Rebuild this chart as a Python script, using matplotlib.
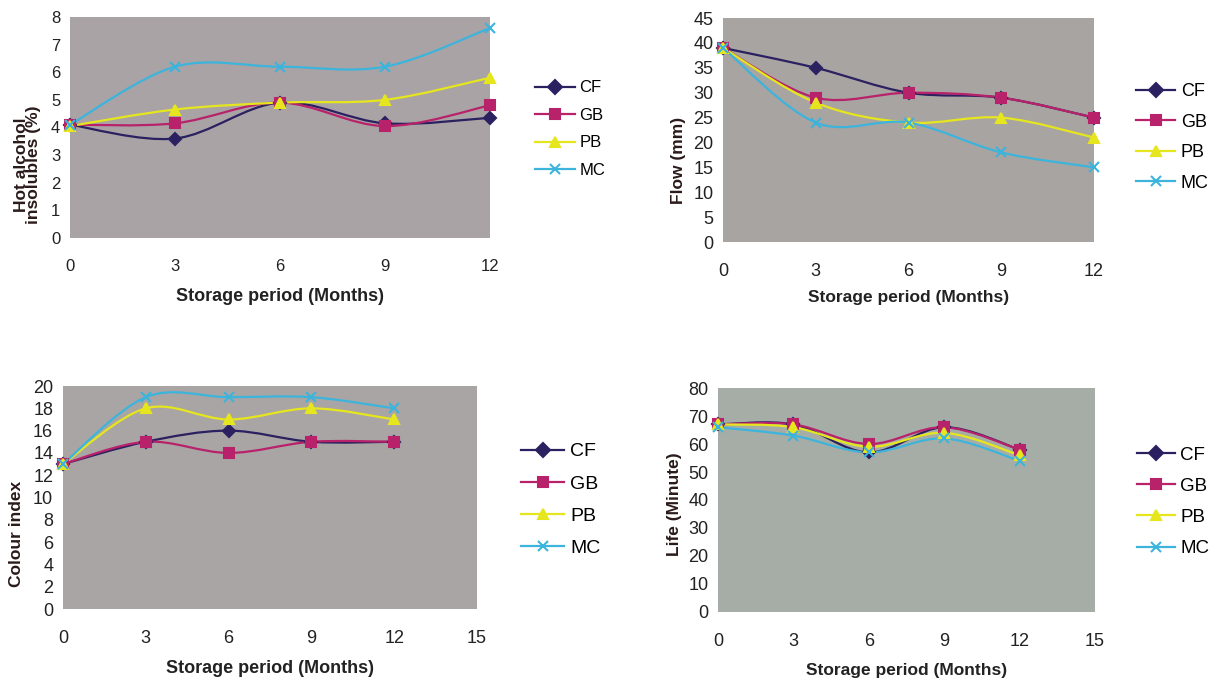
import numpy as np
import matplotlib
matplotlib.use("Agg")
import matplotlib.pyplot as plt
from matplotlib.path import Path
from matplotlib.patches import PathPatch
from matplotlib.lines import Line2D

plt.rcParams['font.family'] = ['Liberation Sans', 'DejaVu Sans']

# data
months = [0, 3, 6, 9, 12]
names = ['CF', 'GB', 'PB', 'MC']

hai_cf = [4.1, 3.6, 4.9, 4.15, 4.35]
hai_gb = [4.1, 4.15, 4.9, 4.05, 4.8]
hai_pb = [4.05, 4.65, 4.9, 5.0, 5.8]
hai_mc = [4.1, 6.2, 6.2, 6.2, 7.6]

flow_cf = [39, 35, 30, 29, 25]
flow_gb = [39, 29, 30, 29, 25]
flow_pb = [39, 28, 24, 25, 21]
flow_mc = [39, 24, 24, 18, 15]

col_cf = [13, 15, 16, 15, 15]
col_gb = [13, 15, 14, 15, 15]
col_pb = [13, 18, 17, 18, 17]
col_mc = [13, 19, 19, 19, 18]

life_cf = [67, 67, 57, 66, 58]
life_gb = [67, 67, 60, 66, 58]
life_pb = [67, 66, 59, 64, 56]
life_mc = [66, 63, 57, 62, 54]

colors = ['#2b2060', '#b8226a', '#e6e61e', '#3cb4dc']
markers = ['D', 's', '^', 'x']


def smooth_line(ax, x, y, color):
    # excel style smoothed line (catmull-rom as bezier)
    pts = np.column_stack([x, y]).astype(float)
    verts = [pts[0]]
    codes = [Path.MOVETO]
    for i in range(len(pts) - 1):
        p0 = pts[i - 1] if i > 0 else pts[i]
        p1 = pts[i]
        p2 = pts[i + 1]
        p3 = pts[i + 2] if i + 2 < len(pts) else pts[i + 1]
        verts += [p1 + (p2 - p0) / 6, p2 - (p3 - p1) / 6, p2]
        codes += [Path.CURVE4] * 3
    ax.add_patch(PathPatch(Path(verts, codes), fill=False, edgecolor=color,
                           lw=1.6, clip_on=False, zorder=2))


def panel(rect, series, xmax, ymax, ystep, ylabel, bg, tick_fs, lab_fs, leg_fs,
          leg_pos, hlen, ylab_xy, xlab_y):
    ax = fig.add_axes(rect)
    ax.set_facecolor(bg)
    for s in ax.spines.values():
        s.set_visible(False)
    for vals, c, m in zip(series, colors, markers):
        smooth_line(ax, months, vals, c)
        ax.plot(months, vals, linestyle='none', marker=m, color=c,
                markersize=7 if m != 'D' else 6, mew=1.5, clip_on=False, zorder=3)
    ax.set_xlim(0, xmax)
    ax.set_ylim(0, ymax)
    ax.set_xticks(range(0, xmax + 1, 3))
    ax.set_yticks(np.arange(0, ymax + 1, ystep))
    ax.tick_params(length=0, labelsize=tick_fs, colors='#222222')
    ax.tick_params(axis='x', pad=15)
    ax.tick_params(axis='y', pad=7)
    ax.set_xlabel('Storage period (Months)', fontsize=lab_fs, fontweight='bold',
                  color='#222222')
    ax.xaxis.set_label_coords(0.5, xlab_y)
    ax.set_ylabel(ylabel, fontsize=12.5, fontweight='bold', color='#2a1a1a',
                  linespacing=0.8)
    ax.yaxis.set_label_coords(*ylab_xy)
    handles = [Line2D([], [], color=c, marker=m, lw=1.6, markersize=7, mew=1.5, label=n)
               for c, m, n in zip(colors, markers, names)]
    ax.legend(handles=handles, loc='upper left', bbox_to_anchor=leg_pos,
              bbox_transform=fig.transFigure, frameon=False, fontsize=leg_fs,
              handlelength=hlen, handletextpad=0.3, labelspacing=0.75,
              borderpad=0)
    return ax


fig = plt.figure(figsize=(12.18, 6.87), dpi=100)

panel([0.0575, 0.6536, 0.3448, 0.3217], [hai_cf, hai_gb, hai_pb, hai_mc],
      12, 8, 1, 'Hot alcohol\ninsolubles (%)', '#a9a3a5', 12, 13, 12,
      (0.432, 1 - 72 / 687), 2.4, (-0.068, 0.33), -0.225)

panel([0.5936, 0.6477, 0.3046, 0.326], [flow_cf, flow_gb, flow_pb, flow_mc],
      12, 45, 5, 'Flow (mm)', '#a8a4a2', 13, 12.5, 13,
      (0.925, 1 - 74 / 687), 2.2, (-0.1, 0.366), -0.215)

panel([0.0517, 0.1135, 0.3399, 0.3246], [col_cf, col_gb, col_pb, col_mc],
      15, 20, 2, 'Colour index', '#a9a5a5', 13, 13, 14,
      (0.42, 1 - 433 / 687), 2.2, (-0.095, 0.336), -0.228)

panel([0.5895, 0.1092, 0.3095, 0.326], [life_cf, life_gb, life_pb, life_mc],
      15, 80, 10, 'Life (Minute)', '#a6ada7', 13, 12.5, 13.5,
      (0.926, 1 - 437 / 687), 2.0, (-0.096, 0.48), -0.228)

fig.savefig('out.png', dpi=100)
